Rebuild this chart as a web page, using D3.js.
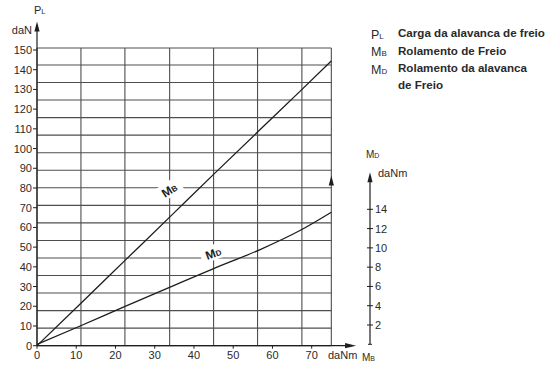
<!DOCTYPE html>
<html>
<head>
<meta charset="utf-8">
<script src="https://cdn.jsdelivr.net/npm/d3@7"></script>
<style>
  body { margin: 0; background: #fff; }
  svg { display: block; font-family: "Liberation Sans", Arial, sans-serif; }
</style>
</head>
<body>
<div id="chart"></div>
<script>
const w = 556;
const h = 365;
const lineColor = "#1e1e1e";
const gridColor = "#4e4e4e";
const textColor = "#2a2a2a";

// x: MB in daNm, left y: PL in daN, right y: MD in daNm
const xTicks = [0, 10, 20, 30, 40, 50, 60, 70];
const yLeftTicks = [0, 10, 20, 30, 40, 50, 60, 70, 80, 90, 100, 110, 120, 130, 140, 150];
const yRightTicks = [2, 4, 6, 8, 10, 12, 14];
const gridX = [0, 11.2, 22.4, 33.8, 45, 56.2, 67.5, 75];
const gridY = [0, 8.9, 17.8, 26.7, 35.6, 44.5, 53.4, 62.3, 71.2, 80.1, 89, 97.9, 106.8, 115.7, 124.6, 133.5, 142.4, 151];
const mbX = [0, 11, 22.5, 34, 45, 56, 67, 75];
const mbPL = [0, 21.2, 43.4, 65.6, 86.9, 108, 129, 144.5];
const mdX = [0, 11, 22, 36, 45, 57, 67, 75];
const mdVal = [0, 1.9, 3.85, 6.3, 7.85, 9.85, 11.8, 13.7];
const legend = [
  { sym: "P", sub: "L", lines: ["Carga da alavanca de freio"] },
  { sym: "M", sub: "B", lines: ["Rolamento de Freio"] },
  { sym: "M", sub: "D", lines: ["Rolamento da alavanca", "de Freio"] }
];

const x = d3.scaleLinear().domain([0, 70]).range([37, 311.7]);
const yL = d3.scaleLinear().domain([0, 150]).range([345.7, 50]);
const yR = d3.scaleLinear().domain([0, 14]).range([344.3, 209.3]);
const gridRight = x(75);

const svg = d3.select("#chart").append("svg")
  .attr("width", w)
  .attr("height", h);

// grid
const grid = svg.append("g").attr("stroke", gridColor).attr("stroke-width", 1.1);
gridX.forEach(v => {
  grid.append("line")
    .attr("x1", x(v)).attr("x2", x(v))
    .attr("y1", yL(0)).attr("y2", yL(gridY[gridY.length - 1]));
});
gridY.forEach(v => {
  grid.append("line")
    .attr("x1", x(0)).attr("x2", gridRight)
    .attr("y1", yL(v)).attr("y2", yL(v));
});

function arrowUp(cx, tipY) {
  svg.append("path")
    .attr("d", `M${cx},${tipY} L${cx - 2.6},${tipY + 10} L${cx + 2.6},${tipY + 10} Z`)
    .attr("fill", lineColor);
}
function arrowRight(tipX, cy) {
  svg.append("path")
    .attr("d", `M${tipX},${cy} L${tipX - 11},${cy - 2.6} L${tipX - 11},${cy + 2.6} Z`)
    .attr("fill", lineColor);
}

// left axis
svg.append("line")
  .attr("x1", x(0)).attr("x2", x(0))
  .attr("y1", yL(0)).attr("y2", yL(162))
  .attr("stroke", lineColor).attr("stroke-width", 1.2);
arrowUp(x(0), yL(164.5));

const yl = svg.append("g");
yLeftTicks.forEach(v => {
  yl.append("line")
    .attr("x1", x(0) - 4).attr("x2", x(0))
    .attr("y1", yL(v)).attr("y2", yL(v))
    .attr("stroke", lineColor);
  yl.append("text")
    .attr("x", 32).attr("y", yL(v) + 4)
    .attr("text-anchor", "end")
    .attr("font-size", 11)
    .attr("fill", textColor)
    .text(v);
});
svg.append("text").attr("x", 32).attr("y", 34)
  .attr("text-anchor", "end").attr("font-size", 11).attr("fill", textColor).text("daN");
const pl = svg.append("text").attr("x", 34).attr("y", 14).attr("font-size", 11).attr("fill", textColor);
pl.append("tspan").text("P");
pl.append("tspan").attr("font-size", 7.5).text("L");

// x axis
svg.append("line")
  .attr("x1", x(0)).attr("x2", x(79))
  .attr("y1", yL(0)).attr("y2", yL(0))
  .attr("stroke", lineColor).attr("stroke-width", 1.2);
arrowRight(x(81.3), yL(0));
xTicks.forEach(v => {
  svg.append("line")
    .attr("x1", x(v)).attr("x2", x(v))
    .attr("y1", yL(0)).attr("y2", yL(0) + 3)
    .attr("stroke", lineColor);
  svg.append("text")
    .attr("x", x(v)).attr("y", 359)
    .attr("text-anchor", "middle")
    .attr("font-size", 11)
    .attr("fill", textColor)
    .text(v);
});
svg.append("text").attr("x", 328).attr("y", 359)
  .attr("font-size", 11).attr("fill", textColor).text("daNm");
const mbAx = svg.append("text").attr("x", 362).attr("y", 361).attr("font-size", 10).attr("fill", textColor);
mbAx.append("tspan").text("M");
mbAx.append("tspan").attr("font-size", 7).text("B");

// arrow on the right border of the grid
arrowUp(gridRight, yR(17.5));

// right axis
const rx = 370;
svg.append("line")
  .attr("x1", rx).attr("x2", rx)
  .attr("y1", yR(0)).attr("y2", yR(17))
  .attr("stroke", lineColor).attr("stroke-width", 1.2);
arrowUp(rx, yR(17.85));
svg.append("line")
  .attr("x1", rx - 2).attr("x2", rx + 2)
  .attr("y1", yR(0)).attr("y2", yR(0))
  .attr("stroke", lineColor);
yRightTicks.forEach(v => {
  svg.append("line")
    .attr("x1", rx - 3).attr("x2", rx + 3)
    .attr("y1", yR(v)).attr("y2", yR(v))
    .attr("stroke", lineColor);
  svg.append("text")
    .attr("x", rx + 5).attr("y", yR(v) + 4)
    .attr("font-size", 11)
    .attr("fill", textColor)
    .text(v);
});
svg.append("text").attr("x", 378).attr("y", 177)
  .attr("font-size", 11).attr("fill", textColor).text("daNm");
const mdAx = svg.append("text").attr("x", 366).attr("y", 158).attr("font-size", 10).attr("fill", textColor);
mdAx.append("tspan").text("M");
mdAx.append("tspan").attr("font-size", 7).text("D");

// curves
const mbLine = d3.line().x(d => x(d[0])).y(d => yL(d[1])).curve(d3.curveMonotoneX);
const mdLine = d3.line().x(d => x(d[0])).y(d => yR(d[1])).curve(d3.curveMonotoneX);
svg.append("path")
  .attr("d", mbLine(mbX.map((v, i) => [v, mbPL[i]])))
  .attr("fill", "none").attr("stroke", lineColor).attr("stroke-width", 1.3);
svg.append("path")
  .attr("d", mdLine(mdX.map((v, i) => [v, mdVal[i]])))
  .attr("fill", "none").attr("stroke", lineColor).attr("stroke-width", 1.3);

function curveLabel(cx, cy, angle, sub) {
  const g = svg.append("g").attr("transform", `translate(${cx},${cy}) rotate(${angle})`);
  g.append("rect").attr("x", -13).attr("y", -8).attr("width", 26).attr("height", 15).attr("fill", "#fff");
  const t = g.append("text").attr("text-anchor", "middle").attr("y", 4.5)
    .attr("font-size", 12).attr("font-weight", "bold").attr("fill", lineColor);
  t.append("tspan").text("M");
  t.append("tspan").attr("font-size", 8).text(sub);
}
curveLabel(x(33.7), yL(79), -33, "B");
curveLabel(x(44.9), yL(47), -20, "D");

// legend
legend.forEach((d, i) => {
  const by = 37 + i * 17.5;
  const s = svg.append("text").attr("x", 371).attr("y", by + 1.5).attr("font-size", 12.5).attr("fill", textColor);
  s.append("tspan").text(d.sym);
  s.append("tspan").attr("font-size", 8).text(d.sub);
  d.lines.forEach((ln, j) => {
    svg.append("text")
      .attr("x", 398).attr("y", by + j * 17)
      .attr("font-size", 11.6).attr("font-weight", "bold")
      .attr("fill", textColor)
      .text(ln);
  });
});
</script>
</body>
</html>
